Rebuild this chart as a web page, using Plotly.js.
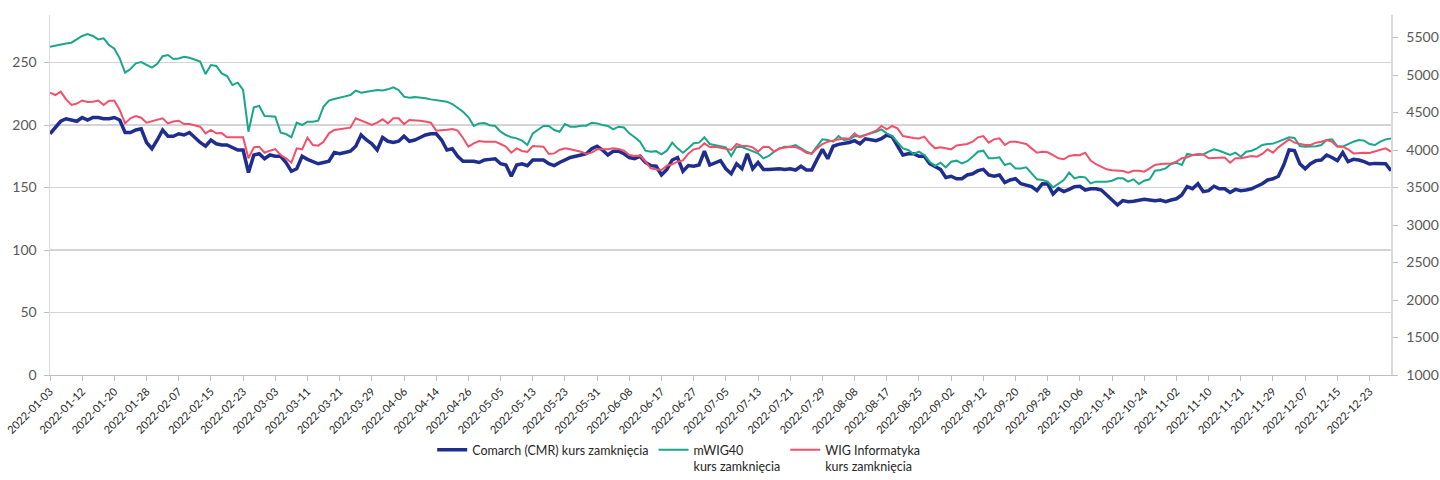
<!DOCTYPE html>
<html>
<head>
<meta charset="utf-8">
<script src="https://cdn.plot.ly/plotly-3.0.1.min.js"></script>
<style>html,body{margin:0;padding:0;background:#fff;}#chart{width:1440px;height:480px;}</style>
</head>
<body>
<div id="chart"></div>
<script>
// Trading sessions of 2022 (GPW): weekdays without exchange holidays
const year = 2022;
const holidays = ['2022-01-06','2022-04-15','2022-04-18','2022-05-03','2022-06-16','2022-08-15','2022-11-01','2022-11-11','2022-12-26'];
const lastSession = '2022-12-30';

const cmr = [193,198,203,205,204,203,206,204,206,206,205,205,206,204,194,194,196,197,186,181,
188,196,191,191,193,192,194,190,186,183,188,185,184,184,182,180,180,162,176,177,
173,176,175,175,170,163,165,175,172.5,171,169,170,171,178,177,178,179,183,192,188,
185,180,190,187,186,187,191,187,188,190,192,193,193,188,180,181,175,171,171,171,
170,172,172.5,173,169,168,159,168,169,167.5,172,172,172,169,167.5,170,172,174,175,176,
177,181,183,180,176,179,179,177,174,173,175,170,167.5,167,160,164.5,172,174,163,167.5,
167,168,179,168,170,171.5,165,161,169,165,177,165,170,164.5,164.5,165,165,164.5,165,164,
167,164,164,172.5,180.5,173,183,184.5,185,186,187.5,185,189,188,187.5,189,192,190.5,183,176,
177,177,175,175,169,167,164.5,158,159,157,157,160,161,163.5,164.5,160,159,160,154,156,
157,153,152,150.7,147.5,153,152.8,144.8,149,146.7,148.5,150.7,151,148,149,149,148,144,140,136,
139.5,138.7,139,140,140.5,140,139.5,140,138.7,140,141,144,150.7,149,153,146.7,147.5,151,149,149,
146,148.5,147.5,148,149,151,153,156,157,159,168,180,179.5,169,165,169,171.5,172,176,174,
171.5,178,170.7,172.5,172,170.7,168.8,169.3,169,169,163.5];

const mwig40 = [5378,5395,5405,5420,5431,5470,5520,5546,5520,5475,5489,5400,5350,5222,5031,5080,5155,5173,5140,5098,
5150,5250,5267,5213,5220,5244,5230,5200,5178,5013,5133,5120,5022,4986,4866,4898,4800,4244,4569,4587,
4453,4450,4444,4231,4213,4169,4364,4333,4378,4378,4391,4578,4658,4680,4702,4715,4733,4791,4764,4778,
4790,4800,4795,4809,4835,4800,4711,4698,4705,4700,4690,4675,4667,4655,4644,4613,4560,4510,4440,4320,
4355,4360,4330,4320,4244,4200,4169,4155,4124,4067,4222,4267,4320,4320,4267,4244,4346,4311,4311,4324,
4324,4364,4355,4333,4320,4275,4311,4300,4222,4169,4111,3991,3978,3985,3942,3991,4098,4022,3964,4022,
4089,4098,4169,4080,4067,4058,4035,3920,4044,4040,4009,3980,3955,3889,3920,3978,4020,4044,4044,4067,
4022,3978,3955,4044,4142,4135,4111,4186,4133,4140,4186,4180,4200,4215,4244,4275,4222,4186,4111,4022,
4000,3947,3978,3933,3844,3787,3831,3769,3844,3858,3822,3850,3911,3978,3991,3889,3889,3902,3800,3822,
3755,3755,3769,3689,3609,3600,3578,3502,3555,3600,3698,3622,3644,3635,3555,3578,3578,3578,3590,3622,
3622,3578,3609,3547,3591,3609,3724,3733,3755,3813,3831,3800,3947,3933,3933,3940,3978,4009,3990,3960,
3933,3964,3911,3978,3991,4022,4067,4080,4085,4111,4142,4169,4160,4053,4044,4044,4050,4067,4133,4142,
4053,4044,4080,4111,4133,4125,4080,4067,4111,4142,4155];

const wigInfo = [4764,4733,4778,4675,4600,4620,4660,4640,4644,4660,4600,4658,4658,4533,4355,4422,4453,4430,4364,4380,
4400,4422,4355,4380,4391,4346,4346,4330,4311,4222,4267,4222,4225,4169,4169,4169,4169,3889,4035,4044,
3964,3991,4013,3933,3889,3831,4022,4009,4164,4067,4058,4111,4222,4267,4280,4289,4298,4422,4391,4355,
4333,4364,4409,4355,4422,4422,4346,4400,4400,4390,4380,4364,4258,4260,4270,4280,4258,4160,4044,4089,
4120,4111,4111,4111,4080,4044,3964,4022,3987,3975,4053,4053,4044,3947,3955,4000,4022,4010,3991,3978,
3947,3965,4009,4009,4009,4022,4015,3990,3933,3920,3925,3844,3755,3742,3733,3790,3809,3844,3862,3951,
4009,4022,4089,4040,4044,4030,4015,4000,4080,4053,4053,4035,3978,4044,4040,3978,4020,4035,4044,4040,
4009,3964,3947,4022,4080,4111,4125,4142,4155,4150,4222,4169,4200,4231,4258,4320,4275,4320,4289,4186,
4169,4160,4155,4178,4089,4022,4035,4020,4009,4060,4067,4080,4111,4169,4186,4098,4142,4155,4067,4111,
4111,4100,4080,4022,3964,3978,3970,3933,3889,3876,3920,3933,3930,3964,3858,3810,3780,3742,3730,3724,
3720,3698,3724,3724,3711,3755,3800,3813,3813,3820,3844,3889,3902,3933,3947,3940,3889,3895,3902,3900,
3831,3889,3889,3905,3920,3911,3947,4009,3964,4035,4089,4142,4098,4080,4067,4067,4098,4110,4133,4111,
4044,4044,4009,3955,3964,3964,3960,3978,4000,4022,3978];

const seriesNames = ['Comarch (CMR) kurs zamknięcia', 'mWIG40<br>kurs zamknięcia', 'WIG Informatyka<br>kurs zamknięcia'];
const labelEvery = 6;

// build session dates
function pad(n){return n<10?'0'+n:''+n;}
const dates = [];
let d = new Date(Date.UTC(year,0,1));
while (true) {
  const s = d.getUTCFullYear()+'-'+pad(d.getUTCMonth()+1)+'-'+pad(d.getUTCDate());
  const wd = d.getUTCDay();
  if (wd !== 0 && wd !== 6 && holidays.indexOf(s) < 0) dates.push(s);
  if (s === lastSession) break;
  d = new Date(d.getTime() + 86400000);
}
const tickDates = dates.filter((x,i)=> i % labelEvery === 0);

const gray = '#595959';
const traces = [
  {x: dates, y: cmr, name: seriesNames[0], type:'scatter', mode:'lines', yaxis:'y',
   line:{color:'#1F2D8F', width:3.5}},
  {x: dates, y: mwig40, name: seriesNames[1], type:'scatter', mode:'lines', yaxis:'y2',
   line:{color:'#19A68A', width:2}},
  {x: dates, y: wigInfo, name: seriesNames[2], type:'scatter', mode:'lines', yaxis:'y2',
   line:{color:'#F2506A', width:2}}
];

const layout = {
  width:1440, height:480,
  margin:{l:50, r:49, t:15, b:105, autoexpand:false},
  paper_bgcolor:'#fff', plot_bgcolor:'#fff',
  font:{family:'Lato, "Open Sans", sans-serif', color:gray},
  showlegend:true,
  legend:{orientation:'h', x:0.285, xanchor:'left', y:-0.167, yanchor:'top',
    font:{size:12.5, color:'#262626'}, valign:'top', itemwidth:30, tracegroupgap:0},
  xaxis:{type:'category', range:[0, dates.length-1], tickmode:'array', tickvals:tickDates, ticktext:tickDates,
    tickangle:-45, tickfont:{size:11, color:'#262626'}, ticks:'outside', ticklen:5, tickcolor:'#BFBFBF',
    showline:true, linecolor:'#BFBFBF', linewidth:1, showgrid:false, zeroline:false, automargin:false},
  yaxis:{range:[0,288], dtick:50, tick0:0, showgrid:true, gridcolor:'#D4D4D4', gridwidth:1.3,
    showline:true, linecolor:'#D9D9D9', linewidth:1.5, ticks:'outside', ticklen:5, tickcolor:'#BFBFBF',
    tickfont:{size:14, color:gray}, zeroline:false, ticklabelstandoff:4, automargin:false},
  yaxis2:{range:[1000,5800], dtick:500, tick0:1000, overlaying:'y', side:'right', showgrid:false,
    showline:true, linecolor:'#D9D9D9', linewidth:1.5, ticks:'outside', ticklen:5, tickcolor:'#BFBFBF',
    tickfont:{size:14, color:gray}, zeroline:false, ticklabelstandoff:6, automargin:false}
};

Plotly.newPlot('chart', traces, layout, {displayModeBar:false, staticPlot:true});
</script>
</body>
</html>
